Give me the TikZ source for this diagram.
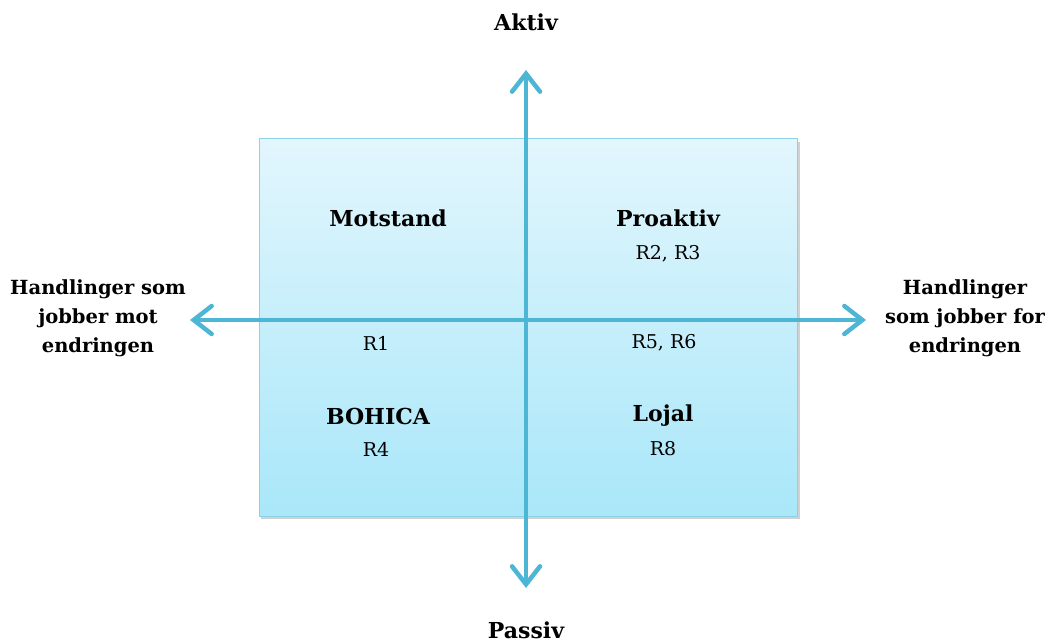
\documentclass[tikz,border=0pt]{standalone}
\usepackage{fontspec}
\setmainfont{DejaVu Serif}
\usetikzlibrary{arrows.meta,shadows}
\definecolor{axis}{HTML}{4DB6D4}
\definecolor{boxtop}{HTML}{E2F6FD}
\definecolor{boxbot}{HTML}{A9E7F9}
\definecolor{boxline}{HTML}{8ED0E6}
\tikzset{
  lbl/.style={font=\fontsize{22}{26}\selectfont\bfseries, align=center, inner sep=0pt},
  sub/.style={font=\fontsize{19}{22}\selectfont, inner sep=0pt},
  side/.style={font=\fontsize{19.5}{29}\selectfont\bfseries, align=center, inner sep=0pt},
  ax/.style={draw=axis, line width=4pt, {Straight Barb[length=18pt,width=28pt,line width=4.5pt,line cap=round]}-{Straight Barb[length=18pt,width=28pt,line width=4.5pt,line cap=round]}},
}
\begin{document}
\begin{tikzpicture}[x=1pt,y=-1pt]
\useasboundingbox (0,0) rectangle (1050,644);
\fill[black!18] (261,142) rectangle (800,519);
\shade[top color=boxtop,bottom color=boxbot,draw=boxline,line width=1pt] (259,139) rectangle (797,516);
\coordinate (t) at (526,70);
\coordinate (b) at (526,588);
\coordinate (l) at (190,320);
\coordinate (r) at (866,320);
\draw[ax] (b) -- (t);
\draw[ax] (l) -- (r);
\node[lbl] (aktiv) at (526,22) {Aktiv};
\node[lbl] (passiv) at (526,630) {Passiv};
\node[lbl] (mot) at (388,218) {Motstand};
\node[lbl] (pro) at (668,218) {Proaktiv};
\node[sub] (r23) at (668,254) {R2, R3};
\node[sub] (r1) at (376,343) {R1};
\node[sub] (r56) at (664,343) {R5, R6};
\node[lbl] (boh) at (378,416) {BOHICA};
\node[sub] (r4) at (376,449) {R4};
\node[lbl] (loj) at (663,416) {Lojal};
\node[sub] (r8) at (663,449) {R8};
\node[side] (left) at (98,318) {Handlinger som\\jobber mot\\endringen};
\node[side] (right) at (965,318) {Handlinger\\som jobber for\\endringen};
\end{tikzpicture}
\end{document}
